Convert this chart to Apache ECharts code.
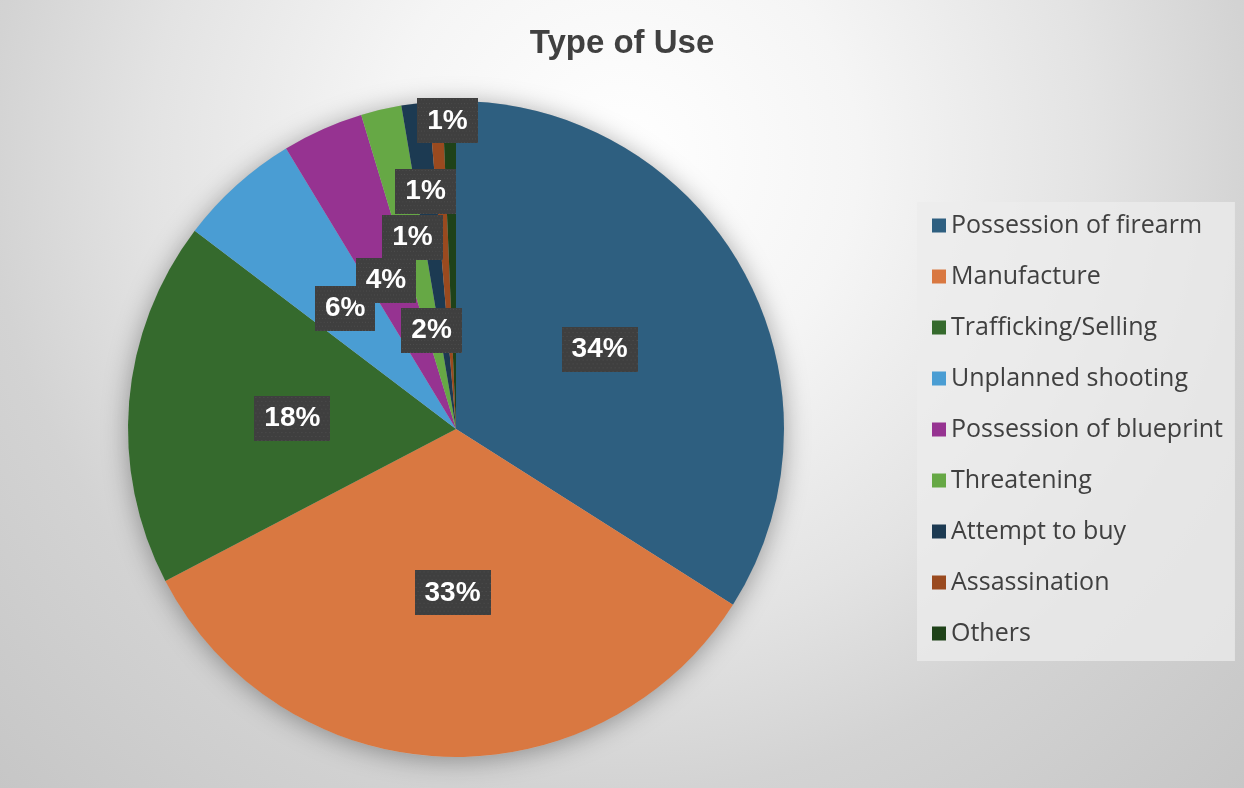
<!DOCTYPE html>
<html>
<head>
<meta charset="utf-8">
<title>Type of Use</title>
<script src="https://cdn.jsdelivr.net/npm/echarts@6/dist/echarts.min.js"></script>
<style>
  html, body { margin: 0; padding: 0; }
  #chart { width: 1244px; height: 788px; }
</style>
</head>
<body>
<div id="chart"></div>
<script>
// Case counts by type of use
const categories = [
  'Possession of firearm',
  'Manufacture',
  'Trafficking/Selling',
  'Unplanned shooting',
  'Possession of blueprint',
  'Threatening',
  'Attempt to buy',
  'Assassination',
  'Others'
];
const counts = [51, 50, 27, 9, 6, 3, 2, 1, 1];

const sliceColors = [
  '#2e5f80', '#d97841', '#356a2d', '#4a9dd3', '#963391',
  '#66a845', '#1c3a52', '#9a4a1f', '#1f4219'
];

// Where each percentage box sits: [fraction of radius, angular shift (deg) from slice middle]
const labelPlacement = [
  [0.50, -0.1], [0.50, -1.2], [0.50, -1.1], [0.50, -0.5], [0.50, -1.3],
  [0.31, -0.7], [0.60, -5.6], [0.73, -3.7], [0.94, -0.4]
];

const PIE_CENTER = [456, 429];
const PIE_RADIUS = 328;

// Middle angle of every slice, clockwise from 12 o'clock, in degrees
const total = counts.reduce((a, b) => a + b, 0);
const midAngles = [];
let acc = 0;
counts.forEach(v => {
  midAngles.push((acc + v / 2) / total * 360);
  acc += v;
});

// Dark box texture with a fine dot grid for the data labels
function makeLabelTexture(w, h) {
  const c = document.createElement('canvas');
  c.width = w; c.height = h;
  const ctx = c.getContext('2d');
  ctx.fillStyle = '#3f3f3f';
  ctx.fillRect(0, 0, w, h);
  ctx.fillStyle = '#4f4f4f';
  for (let y = 1; y < h; y += 4) {
    for (let x = ((y - 1) / 4) % 2 ? 3 : 1; x < w; x += 4) {
      ctx.fillRect(x, y, 1, 1);
    }
  }
  return c;
}
const labelTexture = makeLabelTexture(76, 46);

const chart = echarts.init(document.getElementById('chart'), null, { renderer: 'canvas' });

chart.setOption({
  animation: false,
  backgroundColor: {
    type: 'radial', x: 0.5, y: 0.2, r: 1.2,
    colorStops: [
      { offset: 0, color: '#ffffff' },
      { offset: 0.25, color: '#f5f5f5' },
      { offset: 0.5, color: '#e3e3e3' },
      { offset: 0.67, color: '#d3d3d3' },
      { offset: 1, color: '#c3c3c3' }
    ]
  },
  title: {
    text: 'Type of Use',
    left: 'center',
    top: 22,
    textStyle: {
      fontFamily: 'Liberation Sans',
      fontWeight: 'bold',
      fontSize: 33,
      color: '#404040'
    }
  },
  legend: {
    orient: 'vertical',
    left: 917,
    top: 202,
    data: categories,
    icon: 'rect',
    itemWidth: 14,
    itemHeight: 14,
    itemGap: 26,
    padding: [11, 12, 15, 15],
    backgroundColor: 'rgba(236,236,236,0.75)',
    selectedMode: false,
    textStyle: {
      fontFamily: 'Open Sans',
      fontSize: 25,
      color: '#404040'
    }
  },
  series: [
    {
      // soft drop shadow under the whole pie
      name: 'pieShadow',
      type: 'pie',
      silent: true,
      z: 1,
      center: PIE_CENTER,
      radius: PIE_RADIUS,
      label: { show: false },
      labelLine: { show: false },
      emphasis: { disabled: true },
      data: [{
        value: 1,
        itemStyle: {
          color: '#bdbdbd',
          borderWidth: 0,
          shadowBlur: 26,
          shadowColor: 'rgba(0,0,0,0.35)',
          shadowOffsetX: 0,
          shadowOffsetY: 3
        }
      }]
    },
    {
      name: 'Type of Use',
      type: 'pie',
      z: 2,
      center: PIE_CENTER,
      radius: PIE_RADIUS,
      startAngle: 90,
      clockwise: true,
      avoidLabelOverlap: false,
      emphasis: { disabled: true },
      itemStyle: { borderWidth: 0 },
      data: categories.map((name, i) => ({
        name: name,
        value: counts[i],
        itemStyle: { color: sliceColors[i] }
      })),
      label: {
        show: true,
        position: 'inside',
        formatter: p => Math.round(p.percent) + '%',
        fontFamily: 'Liberation Sans',
        fontWeight: 'bold',
        fontSize: 28,
        lineHeight: 28,
        color: '#ffffff',
        backgroundColor: { image: labelTexture },
        padding: [9, 10, 8, 10],
        shadowColor: 'rgba(0,0,0,0.55)',
        shadowBlur: 7,
        shadowOffsetX: 3,
        shadowOffsetY: 3
      },
      labelLine: { show: false },
      labelLayout: function (params) {
        const i = params.dataIndex;
        const place = labelPlacement[i];
        const a = (midAngles[i] + place[1]) * Math.PI / 180;
        const d = place[0] * PIE_RADIUS;
        return {
          x: PIE_CENTER[0] + d * Math.sin(a),
          y: PIE_CENTER[1] - d * Math.cos(a),
          align: 'center',
          verticalAlign: 'middle'
        };
      }
    }
  ]
});
</script>
</body>
</html>
